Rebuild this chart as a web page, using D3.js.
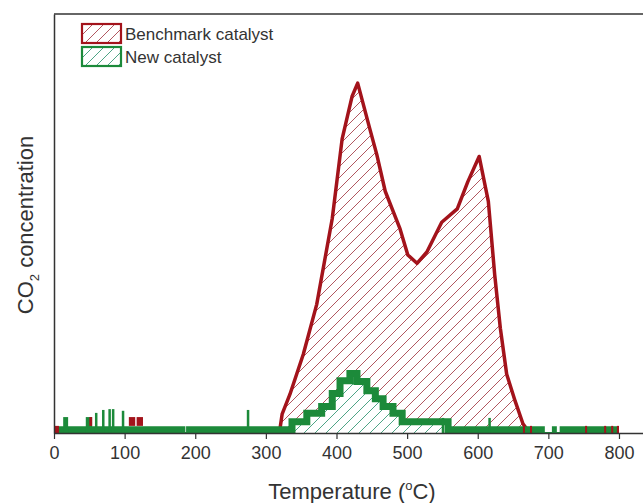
<!DOCTYPE html>
<html>
<head>
<meta charset="utf-8">
<script src="https://cdn.jsdelivr.net/npm/d3@7"></script>
<style>
  body { margin: 0; background: #fff; }
  text { font-family: "Liberation Sans", Arial, sans-serif; fill: #333; }
</style>
</head>
<body>
<div id="chart"></div>
<script>
// ---- data ----
const xTicks = [0, 100, 200, 300, 400, 500, 600, 700, 800];

// benchmark catalyst (temperature, relative CO2 signal)
const benchT = [0, 320, 323, 334, 353, 372, 394, 408, 422, 430, 447, 457, 469, 490, 501, 514, 528, 549, 571, 586, 602, 615, 624, 632, 641, 653, 664, 670, 800];
const benchV = [0.008, 0.01, 0.045, 0.092, 0.188, 0.307, 0.512, 0.702, 0.803, 0.835, 0.727, 0.665, 0.577, 0.487, 0.425, 0.405, 0.432, 0.503, 0.535, 0.6, 0.66, 0.553, 0.378, 0.25, 0.14, 0.076, 0.022, 0.008, 0.008];

// new catalyst, stepped
const newT = [0, 337, 358, 379, 394, 405, 419, 429, 443, 455, 466, 480, 493, 558, 800];
const newV = [0.008, 0.027, 0.047, 0.063, 0.094, 0.125, 0.142, 0.123, 0.101, 0.082, 0.063, 0.047, 0.027, 0.008, 0.008];

// baseline noise
const newSpikeStart = [13, 45, 58, 68, 77, 82, 96, 273, 549, 615];
const newSpikeEnd   = [20, 54, 60, 69, 79, 84, 98, 275, 552, 617];
const newSpikeTop   = [0.038, 0.038, 0.048, 0.055, 0.057, 0.057, 0.053, 0.055, 0.036, 0.036];
const newGapStart = [186, 695, 712];
const newGapEnd   = [187, 705, 716];
const benchBlipStart = [0, 50, 106, 117, 664, 674, 752, 779, 789, 797];
const benchBlipEnd   = [7, 54, 115, 126, 666, 676, 754, 781, 791, 800];
const benchBlipTop   = [0.017, 0.038, 0.038, 0.038, 0.017, 0.017, 0.017, 0.017, 0.017, 0.017];

const seriesNames = ["Benchmark catalyst", "New catalyst"];

// ---- layout ----
const width = 643, height = 503;
const red = "#a3131b", green = "#1c8a3a";

const svg = d3.select("#chart").append("svg")
  .attr("width", width).attr("height", height);

const x = d3.scaleLinear().domain([0, 834]).range([54, 643]);
const y = d3.scaleLinear().domain([0, 1]).range([433, 14]);

// hatch patterns
const defs = svg.append("defs");
function hatch(id, color) {
  const p = defs.append("pattern")
    .attr("id", id)
    .attr("patternUnits", "userSpaceOnUse")
    .attr("width", 11).attr("height", 11);
  p.append("rect").attr("width", 11).attr("height", 11).attr("fill", "#fff");
  p.append("path")
    .attr("d", "M0,11 L11,0 M-2.75,2.75 L2.75,-2.75 M8.25,13.75 L13.75,8.25")
    .attr("stroke", color).attr("stroke-width", 0.9).attr("fill", "none");
}
hatch("hatchRed", "#a8444e");
hatch("hatchGreen", "#3b9a78");

const benchData = benchT.map((t, i) => [t, benchV[i]]);
const newData = newT.map((t, i) => [t, newV[i]]);

const area = d3.area().x(d => x(d[0])).y0(y(0)).y1(d => y(d[1]));
const line = d3.line().x(d => x(d[0])).y(d => y(d[1]));

// benchmark
svg.append("path").datum(benchData)
  .attr("d", area).attr("fill", "url(#hatchRed)");
svg.append("path").datum(benchData)
  .attr("d", line).attr("fill", "none")
  .attr("stroke", red).attr("stroke-width", 3.5).attr("stroke-linejoin", "round");

// new catalyst
svg.append("path").datum(newData)
  .attr("d", area.curve(d3.curveStepAfter)).attr("fill", "url(#hatchGreen)");
svg.append("path").datum(newData)
  .attr("d", line.curve(d3.curveStepAfter)).attr("fill", "none")
  .attr("stroke", green).attr("stroke-width", 7);

// noise
svg.append("g").selectAll("rect").data(newGapStart).join("rect")
  .attr("x", (d, i) => x(d)).attr("width", (d, i) => x(newGapEnd[i]) - x(d))
  .attr("y", y(0.02)).attr("height", y(0) - y(0.02) - 1)
  .attr("fill", "#fff");
svg.append("g").selectAll("rect").data(newSpikeStart).join("rect")
  .attr("x", d => x(d)).attr("width", (d, i) => Math.max(2.5, x(newSpikeEnd[i]) - x(d)))
  .attr("y", (d, i) => y(newSpikeTop[i])).attr("height", (d, i) => y(0) - y(newSpikeTop[i]))
  .attr("fill", green);
svg.append("g").selectAll("rect").data(benchBlipStart).join("rect")
  .attr("x", d => x(d)).attr("width", (d, i) => Math.max(2, x(benchBlipEnd[i]) - x(d)))
  .attr("y", (d, i) => y(benchBlipTop[i]))
  .attr("height", (d, i) => (benchBlipTop[i] > 0.02 ? y(0.017) : y(0)) - y(benchBlipTop[i]))
  .attr("fill", red);

// axes
const xAxis = svg.append("g")
  .attr("transform", `translate(0,${y(0)})`)
  .call(d3.axisBottom(x).tickValues(xTicks).tickSize(6).tickSizeOuter(0).tickPadding(7));
xAxis.select(".domain").attr("stroke", "#333").attr("stroke-width", 1.5);
xAxis.selectAll(".tick line").attr("stroke", "#333").attr("stroke-width", 1.2);
xAxis.selectAll(".tick text").attr("font-size", 18).attr("fill", "#333")
  .style("font-family", "'Liberation Sans', Arial, sans-serif");

const yAxis = svg.append("g")
  .attr("transform", `translate(${x(0)},0)`)
  .call(d3.axisLeft(y).tickValues([]).tickSizeOuter(0));
yAxis.select(".domain").attr("stroke", "#333").attr("stroke-width", 1.5);

svg.append("line")
  .attr("x1", x(0)).attr("x2", x.range()[1])
  .attr("y1", y(1)).attr("y2", y(1))
  .attr("stroke", "#333").attr("stroke-width", 1.5);

// axis titles
const xt = svg.append("text")
  .attr("x", 352).attr("y", 499)
  .attr("text-anchor", "middle").attr("font-size", 22);
xt.append("tspan").text("Temperature (");
xt.append("tspan").text("o").attr("font-size", 13).attr("dy", -9);
xt.append("tspan").text("C)").attr("dy", 9);

const yt = svg.append("text")
  .attr("transform", `translate(33,225) rotate(-90)`)
  .attr("text-anchor", "middle").attr("font-size", 22);
yt.append("tspan").text("CO");
yt.append("tspan").text("2").attr("font-size", 13).attr("dy", 6);
yt.append("tspan").text(" concentration").attr("dy", -6);

// legend
const legend = svg.append("g");
const legendColors = [red, green];
const legendFills = ["url(#hatchRed)", "url(#hatchGreen)"];
seriesNames.forEach((name, i) => {
  const g = legend.append("g").attr("transform", `translate(82,${24 + i * 23})`);
  g.append("rect").attr("width", 39).attr("height", 19)
    .attr("fill", legendFills[i]).attr("stroke", legendColors[i]).attr("stroke-width", 2.2);
  g.append("text").attr("x", 43).attr("y", 15.5).attr("font-size", 17).text(name);
});
</script>
</body>
</html>
